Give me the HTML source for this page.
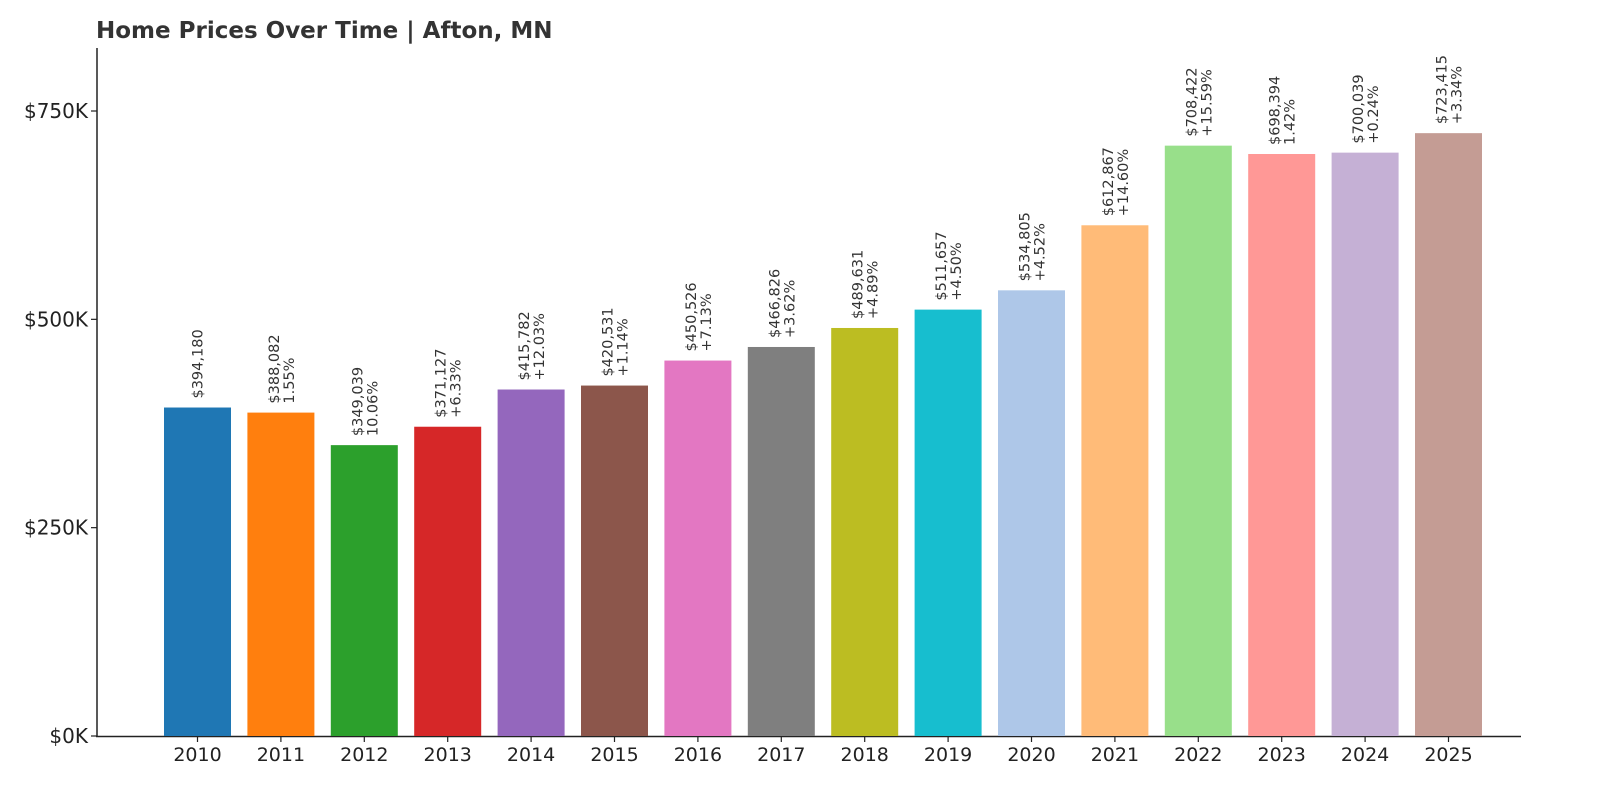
<!DOCTYPE html>
<html><head><meta charset="utf-8"><style>
body{margin:0;background:#fff;}
svg{display:block;font-family:"DejaVu Sans","Liberation Sans",sans-serif;}
</style></head><body>
<svg width="1600" height="800" viewBox="0 0 1600 800">
<text x="96" y="38" font-size="23" font-weight="bold" fill="#333">Home Prices Over Time | Afton, MN</text>
<g id="axes"></g>
<g id="bars"></g>
</svg>
<script>
const years=["2010","2011","2012","2013","2014","2015","2016","2017","2018","2019","2020","2021","2022","2023","2024","2025"];
const prices=[394180,388082,349039,371127,415782,420531,450526,466826,489631,511657,534805,612867,708422,698394,700039,723415];
const changes=["","1.55%","10.06%","+6.33%","+12.03%","+1.14%","+7.13%","+3.62%","+4.89%","+4.50%","+4.52%","+14.60%","+15.59%","1.42%","+0.24%","+3.34%"];
const colors=["#1f77b4","#ff7f0e","#2ca02c","#d62728","#9467bd","#8c564b","#e377c2","#7f7f7f","#bcbd22","#17becf","#aec7e8","#ffbb78","#98df8a","#ff9896","#c5b0d5","#c49c94"];
const yTicks=[0,250000,500000,750000];
const yTickLabels=["$0K","$250K","$500K","$750K"];
const NS="http://www.w3.org/2000/svg";
const y0=736, pxPerUnit=625/750000;
const yScale=v=>y0-v*pxPerUnit;
const xFirst=197.5, step=83.4, barW=67;
const xScale=i=>xFirst+i*step;
function mk(tag,attrs,parent){const e=document.createElementNS(NS,tag);for(const k in attrs)e.setAttribute(k,attrs[k]);parent.appendChild(e);return e;}
const axes=document.getElementById('axes'), bars=document.getElementById('bars');
let l=mk('line',{x1:97,y1:48,x2:97,y2:737,stroke:'#222','stroke-width':1.5},axes);


l=mk('line',{x1:96,y1:736.5,x2:1521,y2:736.5,stroke:'#222','stroke-width':1.5},axes);


yTicks.forEach((v,i)=>{
  const y=yScale(v);
  const t=mk('line',{x1:91,y1:y,x2:97,y2:y,stroke:'#222','stroke-width':1.2},axes);
  
  
  const tx=mk('text',{x:88,y:y+7,'font-size':20,fill:'#222','text-anchor':'end'},axes);
  tx.textContent=yTickLabels[i];
  
  
});
years.forEach((yr,i)=>{
  const cx=xScale(i), top=yScale(prices[i]);
  const r=mk('rect',{x:cx-barW/2,y:top,width:barW,height:y0-top,fill:colors[i]},bars);
  
  
  const tk=mk('line',{x1:cx,y1:737,x2:cx,y2:742,stroke:'#222','stroke-width':1.2},axes);
  
  
  const xl=mk('text',{x:cx,y:761,'font-size':19,fill:'#222','text-anchor':'middle'},axes);
  xl.textContent=yr;
  
  
  const ly=top-9;
  const two=changes[i]!=="";
  const lx=two?cx-2:cx+5;
  const g=mk('text',{transform:`translate(${lx},${ly}) rotate(-90)`,'font-size':14.5,fill:'#333'},bars);
  
  
  const s1=mk('tspan',{x:0,y:0},g);
  s1.textContent='$'+prices[i].toLocaleString('en-US');
  if(two){const s2=mk('tspan',{x:0,y:15},g);s2.textContent=changes[i];}
});
</script>
</body></html>
